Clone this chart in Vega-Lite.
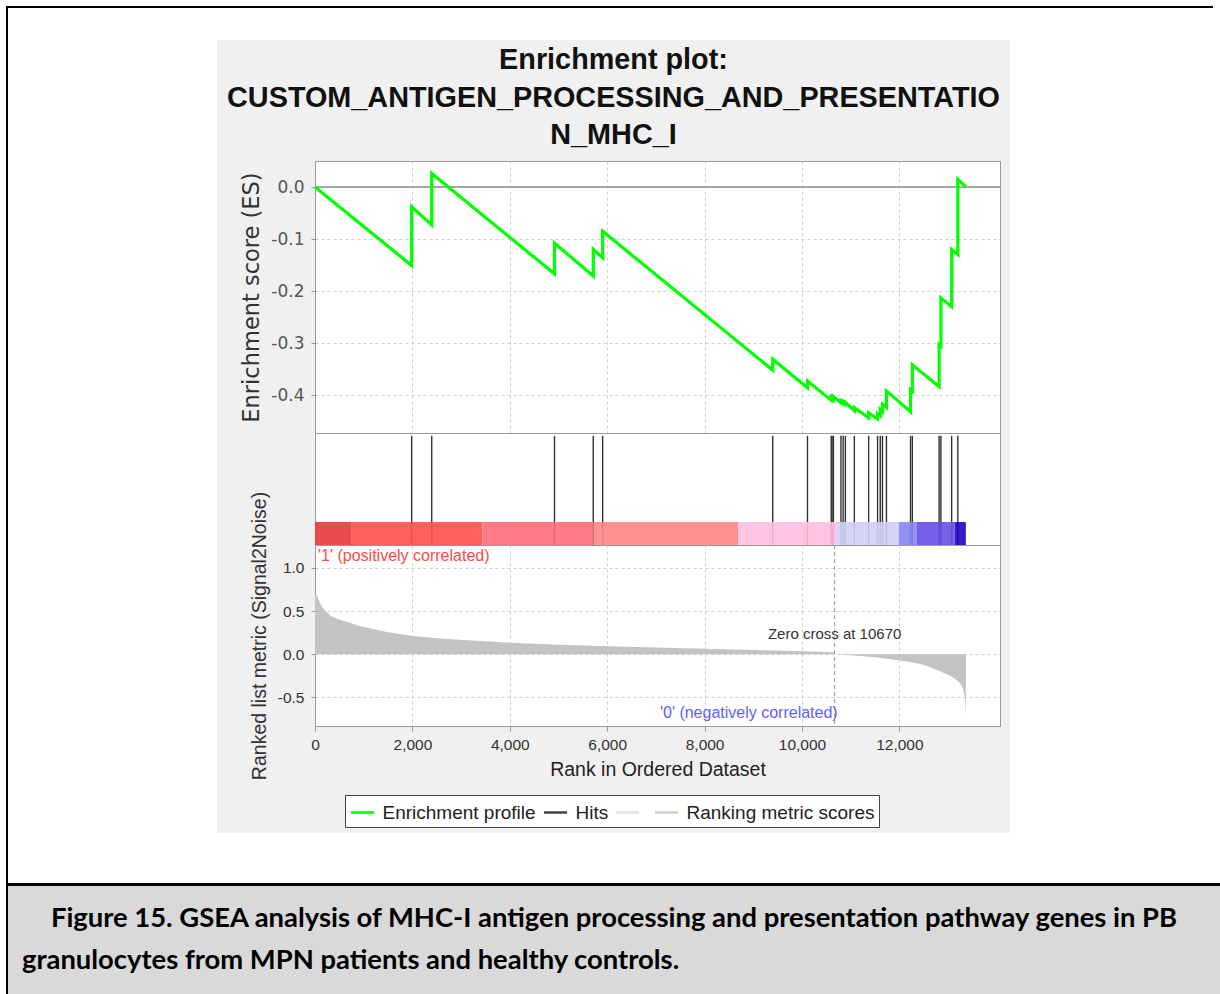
{
"$schema": "https://vega.github.io/schema/vega-lite/v6.json",
"padding": 0,
"background": "#f0f0f0",
"spacing": 0,
"resolve": {"scale": {"stroke": "independent", "fill": "independent"}, "legend": {"stroke": "independent", "fill": "independent"}},
"config": {"concat": {"spacing": 0}, "view": {"stroke": null},
  "axis": {"gridDash": [3,3], "gridColor": "#cfcfcf", "domainColor": "#999999", "tickColor": "#999999", "labelFont": "Liberation Sans", "titleFont": "Liberation Sans", "titleFontWeight": "normal"}},
"vconcat": [
  {"width": 1220, "height": 6, "data": {"values": []}, "mark": "point", "view": {"fill": "white", "stroke": null}},
  {"spacing": 0, "hconcat": [
    {"width": 6, "height": 2, "data": {"values": []}, "mark": "point", "view": {"fill": "white", "stroke": null}},
    {"width": 1207, "height": 2, "data": {"values": []}, "mark": "point", "view": {"fill": "black", "stroke": null}},
    {"width": 7, "height": 2, "data": {"values": []}, "mark": "point", "view": {"fill": "white", "stroke": null}}
  ]},
  {"spacing": 0, "hconcat": [
    {"width": 6, "height": 32, "data": {"values": []}, "mark": "point", "view": {"fill": "white", "stroke": null}},
    {"width": 2, "height": 32, "data": {"values": []}, "mark": "point", "view": {"fill": "black", "stroke": null}},
    {"width": 1212, "height": 32, "data": {"values": []}, "mark": "point", "view": {"fill": "white", "stroke": null}}
  ]},
  {"spacing": 0,
   "resolve": {"scale": {"stroke": "independent", "fill": "independent"}, "legend": {"stroke": "independent", "fill": "independent"}},
   "hconcat": [
    {"width": 6, "height": 793, "data": {"values": []}, "mark": "point", "view": {"fill": "white", "stroke": null}},
    {"width": 2, "height": 793, "data": {"values": []}, "mark": "point", "view": {"fill": "black", "stroke": null}},
    {"width": 209, "height": 793, "data": {"values": []}, "mark": "point", "view": {"fill": "white", "stroke": null}},
    {"spacing": 0,
     "resolve": {"scale": {"stroke": "independent", "fill": "independent"}, "legend": {"stroke": "independent", "fill": "independent"}},
     "vconcat": [
      {"width": 793, "height": 115,
       "data": {"values": [
         {"line": 1, "text": "Enrichment plot:"},
         {"line": 2, "text": "CUSTOM_ANTIGEN_PROCESSING_AND_PRESENTATIO"},
         {"line": 3, "text": "N_MHC_I"}]},
       "mark": {"type": "text", "font": "Liberation Sans", "fontWeight": "bold", "fontSize": 28.8, "color": "#111111", "baseline": "middle", "align": "center"},
       "encoding": {
         "y": {"field": "line", "type": "ordinal", "scale": {"type": "point", "padding": 0.533}, "axis": null},
         "text": {"field": "text"}}},
      {"width": 793, "height": 5, "data": {"values": []}, "mark": "point"},
      {"spacing": 0, "hconcat": [
        {"width": 23, "height": 1, "data": {"values": []}, "mark": "point"},
        {"spacing": 0, "bounds": "flush", "vconcat": [
          {"width": 685, "height": 272,
           "view": {"fill": "white", "stroke": "#999999"},
           "layer": [
             {"data": {"values": [{}]},
              "mark": {"type": "rule", "color": "#8c8c8c", "strokeWidth": 1.5},
              "encoding": {"y": {"datum": 0, "scale": {"domain": [-0.473, 0.05], "nice": false, "zero": false}}}},
             {"data": {"values": [
               {"i":0,"rank":0,"es":0},
               {"i":1,"rank":1985,"es":-0.151},{"i":2,"rank":1985,"es":-0.038},
               {"i":3,"rank":2397,"es":-0.073},{"i":4,"rank":2397,"es":0.026},
               {"i":5,"rank":4918,"es":-0.167},{"i":6,"rank":4918,"es":-0.108},
               {"i":7,"rank":5714,"es":-0.171},{"i":8,"rank":5714,"es":-0.12},
               {"i":9,"rank":5907,"es":-0.136},{"i":10,"rank":5907,"es":-0.085},
               {"i":11,"rank":9399,"es":-0.352},{"i":12,"rank":9399,"es":-0.331},
               {"i":13,"rank":10113,"es":-0.386},{"i":14,"rank":10113,"es":-0.373},
               {"i":15,"rank":10600,"es":-0.41},{"i":16,"rank":10600,"es":-0.406},
               {"i":17,"rank":10618,"es":-0.408},{"i":18,"rank":10618,"es":-0.404},
               {"i":19,"rank":10645,"es":-0.407},{"i":20,"rank":10645,"es":-0.403},
               {"i":21,"rank":10800,"es":-0.415},{"i":22,"rank":10800,"es":-0.412},
               {"i":23,"rank":10846,"es":-0.416},{"i":24,"rank":10846,"es":-0.413},
               {"i":25,"rank":10891,"es":-0.417},{"i":26,"rank":10891,"es":-0.414},
               {"i":27,"rank":11075,"es":-0.43},{"i":28,"rank":11075,"es":-0.424},
               {"i":29,"rank":11369,"es":-0.444},{"i":30,"rank":11369,"es":-0.434},
               {"i":31,"rank":11552,"es":-0.446},{"i":32,"rank":11552,"es":-0.436},
               {"i":33,"rank":11607,"es":-0.44},{"i":34,"rank":11607,"es":-0.428},
               {"i":35,"rank":11652,"es":-0.432},{"i":36,"rank":11652,"es":-0.418},
               {"i":37,"rank":11734,"es":-0.424},{"i":38,"rank":11734,"es":-0.392},
               {"i":39,"rank":12229,"es":-0.432},{"i":40,"rank":12229,"es":-0.39},
               {"i":41,"rank":12266,"es":-0.393},{"i":42,"rank":12266,"es":-0.342},
               {"i":43,"rank":12816,"es":-0.384},{"i":44,"rank":12816,"es":-0.303},
               {"i":45,"rank":12853,"es":-0.306},{"i":46,"rank":12853,"es":-0.213},
               {"i":47,"rank":13073,"es":-0.23},{"i":48,"rank":13073,"es":-0.12},
               {"i":49,"rank":13200,"es":-0.13},{"i":50,"rank":13200,"es":0.015},
               {"i":51,"rank":13365,"es":0.0}]},
              "mark": {"type": "line", "color": "#00ff00", "strokeWidth": 3.2},
              "encoding": {
                "x": {"field": "rank", "type": "quantitative", "scale": {"domain": [0, 14066], "nice": false, "zero": false},
                      "axis": {"labels": false, "ticks": false, "domain": false, "title": null, "grid": true, "values": [2000,4000,6000,8000,10000,12000]}},
                "y": {"field": "es", "type": "quantitative",
                      "axis": {"values": [0,-0.1,-0.2,-0.3,-0.4], "labelExpr": "replace(format(datum.value, '.1f'), '\u2212', '-')",
                               "labelFont": "DejaVu Sans", "labelFontSize": 17, "labelColor": "#555555", "tickSize": 4, "labelPadding": 7,
                               "grid": true, "title": "Enrichment score (ES)", "titleFont": "DejaVu Sans", "titleFontSize": 22.5, "titleColor": "#333333", "titlePadding": 7}},
                "order": {"field": "i", "type": "quantitative"}}}
           ]},
          {"width": 685, "height": 112,
           "view": {"fill": "white", "stroke": "#999999"},
           "layer": [
             {"data": {"values": [
               {"rank":1985},{"rank":2397},{"rank":4918},{"rank":5714},{"rank":5907},{"rank":9399},{"rank":10113},
               {"rank":10600},{"rank":10618},{"rank":10645},{"rank":10800},{"rank":10846},{"rank":10891},{"rank":11075},
               {"rank":11369},{"rank":11552},{"rank":11607},{"rank":11652},{"rank":11734},{"rank":12229},{"rank":12266},
               {"rank":12816},{"rank":12853},{"rank":13073},{"rank":13200}]},
              "mark": {"type": "rule", "color": "#333333", "strokeWidth": 1.4},
              "encoding": {
                "x": {"field": "rank", "type": "quantitative", "scale": {"domain": [0, 14066], "nice": false, "zero": false}, "axis": null},
                "y": {"datum": 0, "scale": {"domain": [0, 1], "nice": false}, "axis": null},
                "y2": {"datum": 0.975}}},
             {"data": {"values": [
               {"start":0,"end":740,"band":"b1"},
               {"start":740,"end":3440,"band":"b2"},
               {"start":3440,"end":5714,"band":"b3"},
               {"start":5714,"end":8690,"band":"b4"},
               {"start":8690,"end":10700,"band":"b5"},
               {"start":10700,"end":11990,"band":"b6"},
               {"start":11990,"end":12360,"band":"b7"},
               {"start":12360,"end":13140,"band":"b8"},
               {"start":13140,"end":13365,"band":"b9"}]},
              "mark": {"type": "rect", "opacity": 0.9},
              "encoding": {
                "x": {"field": "start", "type": "quantitative", "axis": null},
                "x2": {"field": "end"},
                "y": {"datum": 0, "axis": null},
                "y2": {"datum": 0.205},
                "fill": {"field": "band", "type": "nominal", "legend": null,
                          "scale": {"domain": ["b1","b2","b3","b4","b5","b6","b7","b8","b9"],
                                    "range": ["#e63a3a","#ff5050","#ff6b7b","#ff8585","#ffbde0","#cfcff6","#8585f7","#6650e6","#2200c8"]}}}}
           ]},
          {"width": 685, "height": 181,
           "view": {"fill": "white", "stroke": "#999999"},
           "layer": [
             {"data": {"values": [
               {"rank":0,"metric":0.70},{"rank":35,"metric":0.686},{"rank":80,"metric":0.62},{"rank":140,"metric":0.55},
               {"rank":250,"metric":0.48},{"rank":345,"metric":0.437},{"rank":500,"metric":0.4},{"rank":657,"metric":0.375},
               {"rank":900,"metric":0.33},{"rank":1170,"metric":0.295},{"rank":1500,"metric":0.255},{"rank":2000,"metric":0.21},
               {"rank":2500,"metric":0.185},{"rank":3033,"metric":0.165},{"rank":3500,"metric":0.15},{"rank":4017,"metric":0.132},
               {"rank":5000,"metric":0.11},{"rank":6035,"metric":0.092},{"rank":7000,"metric":0.078},{"rank":7997,"metric":0.064},
               {"rank":9000,"metric":0.05},{"rank":10066,"metric":0.034},{"rank":10660,"metric":0.022},{"rank":10680,"metric":0.0},
               {"rank":11000,"metric":-0.012},{"rank":11515,"metric":-0.034},{"rank":12130,"metric":-0.08},{"rank":12500,"metric":-0.12},
               {"rank":12755,"metric":-0.176},{"rank":13065,"metric":-0.253},{"rank":13200,"metric":-0.31},{"rank":13270,"metric":-0.35},
               {"rank":13320,"metric":-0.42},{"rank":13345,"metric":-0.52},{"rank":13365,"metric":-0.71}]},
              "mark": {"type": "area", "color": "#c3c3c3"},
              "encoding": {
                "x": {"field": "rank", "type": "quantitative", "scale": {"domain": [0, 14066], "nice": false, "zero": false},
                      "axis": {"values": [0,2000,4000,6000,8000,10000,12000], "format": ",d", "labelFontSize": 15.5, "labelColor": "#333333",
                               "labelFlush": false, "tickSize": 5, "labelPadding": 6, "grid": true, "title": "Rank in Ordered Dataset", "titleFontSize": 19.5,
                               "titleColor": "#222222", "titlePadding": 8}},
                "y": {"field": "metric", "type": "quantitative", "scale": {"domain": [-0.83, 1.264], "nice": false, "zero": false},
                      "axis": {"values": [1,0.5,0,-0.5], "labelExpr": "replace(format(datum.value, '.1f'), '\u2212', '-')",
                               "labelFontSize": 15.5, "labelColor": "#333333", "tickSize": 4, "labelPadding": 7, "grid": true,
                               "title": "Ranked list metric (Signal2Noise)", "titleFontSize": 19.5, "titleColor": "#333333", "titlePadding": 8}},
                "y2": {"datum": 0}}},
             {"data": {"values": [{}]},
              "mark": {"type": "rule", "color": "#9a9a9a", "strokeDash": [4,3], "strokeWidth": 1},
              "encoding": {"x": {"datum": 10670}}},
             {"data": {"values": [{}]},
              "mark": {"type": "text", "text": "Zero cross at 10670", "font": "Liberation Sans", "fontSize": 15, "color": "#333333", "align": "center", "baseline": "middle"},
              "encoding": {"x": {"datum": 10670}, "y": {"datum": 0.23}}},
             {"data": {"values": [{}]},
              "mark": {"type": "text", "text": "'1' (positively correlated)", "font": "Liberation Sans", "fontSize": 16, "color": "#ff4848", "align": "left", "baseline": "middle", "dx": 3},
              "encoding": {"x": {"datum": 0}, "y": {"datum": 1.14}}},
             {"data": {"values": [{}]},
              "mark": {"type": "text", "text": "'0' (negatively correlated)", "font": "Liberation Sans", "fontSize": 16, "color": "#6060ff", "align": "center", "baseline": "middle"},
              "encoding": {"x": {"datum": 8908}, "y": {"datum": -0.678}}}
           ]}
        ]}
      ]},
      {"width": 1, "height": 13, "data": {"values": []}, "mark": "point"},
      {"spacing": 0,
       "resolve": {"scale": {"stroke": "independent", "fill": "independent"}, "legend": {"stroke": "independent", "fill": "independent"}},
       "hconcat": [
        {"width": 127, "height": 1, "data": {"values": []}, "mark": "point"},
        {"width": 1, "height": 1,
         "data": {"values": [{"series": "Enrichment profile"}, {"series": "Hits"}, {"series": "Colorbar"}, {"series": "Ranking metric scores"}]},
         "mark": {"type": "point", "shape": "stroke", "opacity": 0},
         "encoding": {"stroke": {"field": "series", "type": "nominal",
           "scale": {"domain": ["Enrichment profile", "Hits", "Colorbar", "Ranking metric scores"], "range": ["#00ff00", "#444444", "#e4e4e4", "#d0d0d0"]},
           "legend": {"orient": "left", "direction": "horizontal", "columns": 4, "title": null, "symbolType": "stroke", "symbolSize": 529,
                      "symbolStrokeWidth": 2.5, "symbolOpacity": 1, "labelFont": "Liberation Sans", "labelFontSize": 19, "labelColor": "#222222",
                      "labelOffset": 7, "columnPadding": 2, "padding": 4.5, "strokeColor": "#444444", "fillColor": "white", "offset": 0,
                      "labelLimit": 400, "labelExpr": "datum.label == 'Colorbar' ? '' : datum.label"}}}}
      ]}
    ]},
    {"width": 210, "height": 793, "data": {"values": []}, "mark": "point", "view": {"fill": "white", "stroke": null}}
  ]},
  {"spacing": 0, "hconcat": [
    {"width": 6, "height": 50, "data": {"values": []}, "mark": "point", "view": {"fill": "white", "stroke": null}},
    {"width": 2, "height": 50, "data": {"values": []}, "mark": "point", "view": {"fill": "black", "stroke": null}},
    {"width": 1212, "height": 50, "data": {"values": []}, "mark": "point", "view": {"fill": "white", "stroke": null}}
  ]},
  {"spacing": 0, "hconcat": [
    {"width": 6, "height": 3, "data": {"values": []}, "mark": "point", "view": {"fill": "white", "stroke": null}},
    {"width": 1214, "height": 3, "data": {"values": []}, "mark": "point", "view": {"fill": "black", "stroke": null}}
  ]},
  {"spacing": 0, "hconcat": [
    {"width": 6, "height": 108, "data": {"values": []}, "mark": "point", "view": {"fill": "white", "stroke": null}},
    {"width": 2, "height": 108, "data": {"values": []}, "mark": "point", "view": {"fill": "black", "stroke": null}},
    {"width": 1212, "height": 108, "view": {"fill": "#d9d9d9", "stroke": null},
     "layer": [
       {"data": {"values": [{"line": 1, "text": "Figure 15. GSEA analysis of MHC-I antigen processing and presentation pathway genes in PB"}]},
        "mark": {"type": "text", "font": "Lato", "fontWeight": "bold", "fontSize": 27.4, "color": "#000000", "align": "center", "baseline": "middle"},
        "encoding": {"y": {"field": "line", "type": "ordinal", "scale": {"type": "point", "padding": 0.786, "domain": [1, 2]}, "axis": null}, "text": {"field": "text"}}},
       {"data": {"values": [{"line": 2, "text": "granulocytes from MPN patients and healthy controls."}]},
        "mark": {"type": "text", "font": "Lato", "fontWeight": "bold", "fontSize": 27.4, "color": "#000000", "align": "left", "baseline": "middle", "dx": 14},
        "encoding": {"x": {"datum": 0, "scale": {"domain": [0, 1]}, "axis": null},
                     "y": {"field": "line", "type": "ordinal", "axis": null}, "text": {"field": "text"}}}
     ]}
  ]}
]
}
